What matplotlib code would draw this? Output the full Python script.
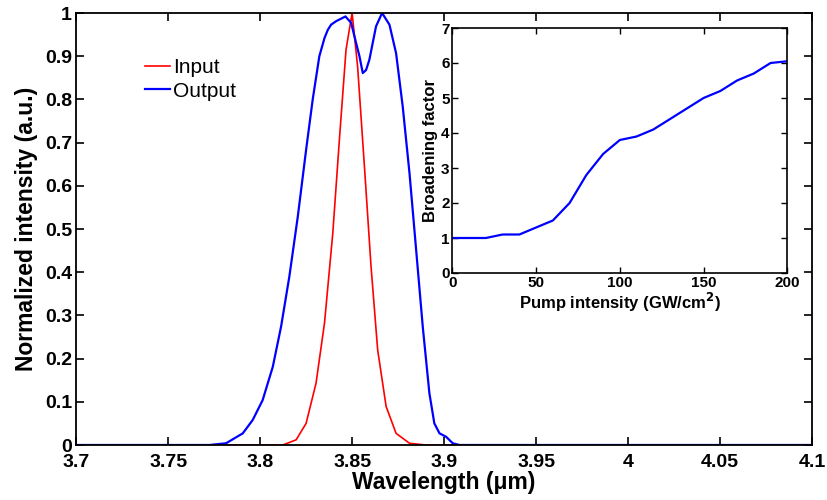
import matplotlib
matplotlib.use('Agg')
import matplotlib.pyplot as plt

plt.rcParams['font.family'] = ['Liberation Sans', 'DejaVu Sans']

# spectra
wl_in = [3.70, 3.8123, 3.8196, 3.825, 3.8304, 3.835, 3.8395, 3.8431, 3.8467, 3.850,
         3.853, 3.8567, 3.8603, 3.8639, 3.8685, 3.8739, 3.8812, 3.890, 4.10]
inten_in = [0, 0, 0.012, 0.05, 0.143, 0.282, 0.49, 0.707, 0.915, 1.0,
            0.876, 0.645, 0.413, 0.22, 0.089, 0.027, 0.004, 0, 0]

wl_out = [3.70, 3.7725, 3.7815, 3.7906, 3.796, 3.8014, 3.8069, 3.8114, 3.8159, 3.8205,
          3.825, 3.8286, 3.8322, 3.835, 3.8368, 3.8386, 3.8413, 3.8464, 3.8495, 3.8522,
          3.854, 3.8558, 3.8576, 3.8594, 3.863, 3.8663, 3.8703, 3.8739, 3.8775, 3.8812,
          3.8848, 3.8884, 3.892, 3.8947, 3.8975, 3.9011, 3.9047, 3.9083, 4.10]
inten_out = [0, 0, 0.004, 0.027, 0.058, 0.104, 0.181, 0.274, 0.39, 0.529,
             0.683, 0.80, 0.90, 0.942, 0.961, 0.973, 0.981, 0.992, 0.977, 0.93,
             0.90, 0.861, 0.868, 0.892, 0.969, 1.0, 0.973, 0.907, 0.784, 0.629,
             0.452, 0.274, 0.12, 0.05, 0.027, 0.019, 0.004, 0, 0]

# inset: broadening vs pump
pump = [0, 10, 20, 30, 40, 50, 60, 70, 80, 90, 100, 110, 120, 130, 140, 150, 160, 170, 180, 190, 200]
broad = [1.0, 1.0, 1.0, 1.1, 1.1, 1.3, 1.5, 2.0, 2.8, 3.4, 3.8, 3.9, 4.1, 4.4, 4.7, 5.0, 5.2, 5.5, 5.7, 6.0, 6.05]

fig = plt.figure(figsize=(8.27, 5.0), dpi=100)
ax = fig.add_axes([0.092, 0.11, 0.890, 0.864])
ax.plot(wl_in, inten_in, color='#ff0000', lw=1.2, label='Input')
ax.plot(wl_out, inten_out, color='#0000ff', lw=1.6, label='Output')
ax.set_xlim(3.7, 4.1)
ax.set_ylim(0, 1)
xt = [3.7, 3.75, 3.8, 3.85, 3.9, 3.95, 4.0, 4.05, 4.1]
ax.set_xticks(xt)
ax.set_xticklabels(['3.7', '3.75', '3.8', '3.85', '3.9', '3.95', '4', '4.05', '4.1'])
yt = [i / 10 for i in range(11)]
ax.set_yticks(yt)
ax.set_yticklabels(['0'] + ['%.1f' % v for v in yt[1:-1]] + ['1'])
ax.tick_params(direction='in', top=True, right=True, length=6, width=1.2,
               labelsize=14)
ax.tick_params(axis='x', pad=6.5)
ax.tick_params(axis='y', pad=3)
for lab in ax.get_xticklabels() + ax.get_yticklabels():
    lab.set_fontweight('bold')
for s in ax.spines.values():
    s.set_linewidth(1.3)
ax.set_xlabel('Wavelength (\u03bcm)', fontsize=16.5, fontweight='bold', labelpad=0)
ax.set_ylabel('Normalized intensity (a.u.)', fontsize=16.5, fontweight='bold', labelpad=5)
ax.legend(loc='upper left', bbox_to_anchor=(0.094, 0.895), frameon=False, fontsize=15,
          borderpad=0, borderaxespad=0, handlelength=1.2, handletextpad=0.15,
          labelspacing=0.2)

ins = fig.add_axes([0.547, 0.454, 0.405, 0.490])
ins.plot(pump, broad, color='#0000ff', lw=1.6)
ins.set_xlim(0, 200)
ins.set_ylim(0, 7)
ins.set_xticks([0, 50, 100, 150, 200])
ins.set_yticks(range(8))
ins.tick_params(direction='in', top=True, right=True, length=4, width=1.0,
                labelsize=11, pad=2)
for lab in ins.get_xticklabels() + ins.get_yticklabels():
    lab.set_fontweight('bold')
for s in ins.spines.values():
    s.set_linewidth(1.2)
ins.set_xlabel('Pump intensity (GW/cm$^\\mathbf{2}$)', fontsize=12, fontweight='bold', labelpad=1)
ins.set_ylabel('Broadening factor', fontsize=12, fontweight='bold', labelpad=2)

fig.savefig('out.png', dpi=100)
